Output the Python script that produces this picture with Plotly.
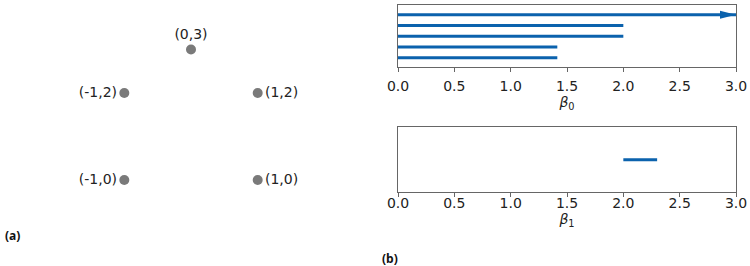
import plotly.graph_objects as go

# ---- data ----
point_x = [-1, 1, -1, 1, 0]
point_y = [0, 0, 2, 2, 3]

h0_birth = [0.0, 0.0, 0.0, 0.0, 0.0]
h0_death = [1.414, 1.414, 2.0, 2.0, float("inf")]   # bottom -> top
h1_birth = [2.0]
h1_death = [2.3]

x_ticks = [0.0, 0.5, 1.0, 1.5, 2.0, 2.5, 3.0]
x_max = 3.0

# ---- style ----
W, H = 750, 266
BAR_COLOR = "#0b62ad"
PT_COLOR = "#7a7a7a"
TXT = "#222222"
FRAME = "#666666"
FONT = "DejaVu Sans"

fig = go.Figure()

# left point cloud
labels = [f"({x},{y})" for x, y in zip(point_x, point_y)]
tpos = ["middle left" if x < 0 else ("middle right" if x > 0 else "top center") for x in point_x]
fig.add_trace(go.Scatter(
    x=point_x, y=point_y, mode="markers+text", text=labels, textposition=tpos,
    marker=dict(size=10, color=PT_COLOR),
    textfont=dict(family=FONT, size=14, color=TXT),
    xaxis="x3", yaxis="y3", showlegend=False, hoverinfo="skip", cliponaxis=False))

def segs(births, deaths):
    xs, ys = [], []
    for i, (b, d) in enumerate(zip(births, deaths)):
        xs += [b, min(d, x_max), None]
        ys += [i, i, None]
    return xs, ys

xs0, ys0 = segs(h0_birth, h0_death)
fig.add_trace(go.Scatter(x=xs0, y=ys0, mode="lines", line=dict(color=BAR_COLOR, width=3),
                         xaxis="x", yaxis="y", showlegend=False, hoverinfo="skip"))
xs1, ys1 = segs(h1_birth, h1_death)
fig.add_trace(go.Scatter(x=xs1, y=ys1, mode="lines", line=dict(color=BAR_COLOR, width=3),
                         xaxis="x2", yaxis="y2", showlegend=False, hoverinfo="skip"))

# arrowheads for infinite bars
shapes = []
for i, d in enumerate(h0_death):
    if d == float("inf"):
        shapes.append(dict(type="path", xref="x", yref="y", xsizemode="pixel", ysizemode="pixel",
                           xanchor=x_max, yanchor=i, path="M-16,4 L0,0 L-16,-4 Z",
                           fillcolor=BAR_COLOR, line=dict(width=0)))

# pixel layout
def px_x(p): return p / W
def px_y(p): return 1 - p / H

ax_common = dict(range=[0, x_max], tickvals=x_ticks, ticktext=[f"{t:.1f}" for t in x_ticks],
                 ticks="outside", ticklen=4, tickcolor=FRAME, showline=True, mirror=True,
                 linecolor=FRAME, linewidth=1, showgrid=False, zeroline=False, automargin=False,
                 tickfont=dict(family=FONT, size=14, color=TXT))
yax_common = dict(showticklabels=False, ticks="", showline=True, mirror=True, linecolor=FRAME,
                  linewidth=1, showgrid=False, zeroline=False, automargin=False)

# left panel mapping: 1 unit x = 66.7px, x=-1 at px 124.3 ; 1 unit y = 43.5px, y=0 at px 180
sx, x0p = 66.7, 124.3
sy, y0p = 43.5, 180.0
left_w = 360
x3_range = [-1 - x0p / sx, -1 + (left_w - x0p) / sx]
y3_range = [(y0p - H) / sy, y0p / sy]

fig.update_layout(
    width=W, height=H, margin=dict(l=0, r=0, t=0, b=0, pad=0, autoexpand=False),
    paper_bgcolor="white", plot_bgcolor="white",
    xaxis=dict(domain=[px_x(398), px_x(736)], anchor="y", ticklabelstandoff=2,
               title=dict(text="<i>β</i><sub>0</sub>", standoff=1, font=dict(family=FONT, size=14, color=TXT)),
               **ax_common),
    yaxis=dict(domain=[px_y(67.3), px_y(4.5)], anchor="x", range=[-0.9, 4.95], **yax_common),
    xaxis2=dict(domain=[px_x(398), px_x(736)], anchor="y2", ticklabelstandoff=-6,
                title=dict(text="<i>β</i><sub>1</sub>", standoff=0, font=dict(family=FONT, size=14, color=TXT)),
                **ax_common),
    yaxis2=dict(domain=[px_y(192), px_y(127.3)], anchor="x2", range=[-1, 1], **yax_common),
    xaxis3=dict(domain=[0, px_x(left_w)], anchor="y3", range=x3_range, visible=False, automargin=False),
    yaxis3=dict(domain=[0, 1], anchor="x3", range=y3_range, visible=False, automargin=False),
    shapes=shapes,
    annotations=[
        dict(text="<b>(a)</b>", xref="paper", yref="paper", x=px_x(3), y=px_y(235),
             xanchor="left", yanchor="middle", showarrow=False,
             font=dict(family="Open Sans", size=12, color="#111111")),
        dict(text="<b>(b)</b>", xref="paper", yref="paper", x=px_x(380), y=px_y(258),
             xanchor="left", yanchor="middle", showarrow=False,
             font=dict(family="Open Sans", size=12, color="#111111")),
    ],
)

fig.write_html("out.html", config={"displayModeBar": False},
               post_script="document.body.style.margin='0px'; document.body.style.overflow='hidden';")
